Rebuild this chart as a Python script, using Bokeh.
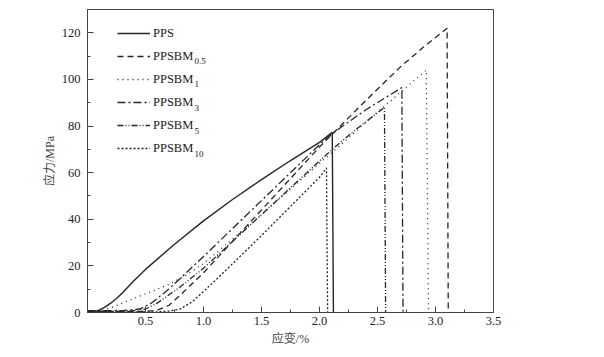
from bokeh.plotting import figure
from bokeh.models import FixedTicker, Legend, LegendItem, Label
from bokeh.embed import file_html
from bokeh.resources import INLINE

# ---- data (strain %, stress MPa) ----
pps_x = [0, 0.05, 0.1, 0.15, 0.2, 0.25, 0.3, 0.4, 0.5, 0.75, 1.0, 1.25, 1.5, 1.75, 2.0, 2.11, 2.12]
pps_y = [0, 0.2, 1, 2.3, 4, 6, 8.4, 13.6, 18.5, 29.3, 39.3, 48.5, 57, 65.2, 73, 77.3, 0]

bm05_x = [0, 0.5, 0.6, 0.7, 0.8, 1.0, 1.5, 2.0, 2.12, 2.4, 2.7, 2.9, 3.1, 3.11]
bm05_y = [0.5, 0.5, 1, 3, 7.5, 17, 44, 71, 77, 91, 105.5, 114, 122, 0]

bm1_x = [0, 0.1, 0.2, 0.3, 0.5, 0.7, 0.85, 1.0, 1.5, 2.0, 2.14, 2.5, 2.92, 2.94]
bm1_y = [0.5, 0.7, 2, 4, 8, 12, 16, 21, 42, 64, 70, 86, 104, 0]

bm3_x = [0, 0.3, 0.45, 0.55, 0.7, 1.0, 1.5, 2.0, 2.13, 2.4, 2.71, 2.72]
bm3_y = [0.8, 0.8, 1.5, 4, 10, 24, 48, 72, 77.5, 87, 96.5, 0]

bm5_x = [0, 0.35, 0.5, 0.6, 0.8, 1.0, 1.5, 2.0, 2.11, 2.3, 2.56, 2.57]
bm5_y = [0.5, 0.5, 1.5, 4, 11, 19, 42, 65, 70, 78, 88, 0]

bm10_x = [0, 0.6, 0.7, 0.8, 0.9, 1.0, 1.2, 1.5, 1.8, 2.0, 2.06, 2.07]
bm10_y = [0.3, 0.3, 0.6, 1.5, 4.5, 9, 18.5, 33, 48, 58, 62, 0]

series_names = ["PPS", "PPSBM", "PPSBM", "PPSBM", "PPSBM", "PPSBM"]
series_subs = ["", "0.5", "1", "3", "5", "10"]
legend_rows_y = [120, 110, 100, 90, 80, 70]

x_ticks = [0.5, 1.0, 1.5, 2.0, 2.5, 3.0, 3.5]
x_tick_labels = ["0.5", "1.0", "1.5", "2.0", "2.5", "3.0", "3.5"]
x_minor = [0.25, 0.75, 1.25, 1.75, 2.25, 2.75, 3.25]
y_ticks = [0, 20, 40, 60, 80, 100, 120]
y_tick_labels = ["0", "20", "40", "60", "80", "100", "120"]
y_minor = [10, 30, 50, 70, 90, 110, 130]

SERIF = "'Liberation Serif', 'Noto Sans CJK SC'"
INK = "#262626"

p = figure(width=596, height=349, x_range=(0, 3.5), y_range=(0, 130),
           output_backend="svg", toolbar_location=None,
           min_border_left=87, min_border_right=103,
           min_border_top=9, min_border_bottom=37)
p.grid.visible = False
p.outline_line_color = "#444444"
p.outline_line_width = 1

p.xaxis.ticker = FixedTicker(ticks=x_ticks, minor_ticks=x_minor)
p.xaxis.major_label_overrides = {t: l for t, l in zip(x_ticks, x_tick_labels)}
p.yaxis.ticker = FixedTicker(ticks=y_ticks, minor_ticks=y_minor)
p.yaxis.major_label_overrides = {t: l for t, l in zip(y_ticks, y_tick_labels)}

for ax in (p.xaxis[0], p.yaxis[0]):
    ax.major_tick_in = 6
    ax.major_tick_out = 0
    ax.minor_tick_in = 3
    ax.minor_tick_out = 0
    ax.axis_line_color = "#444444"
    ax.major_tick_line_color = "#444444"
    ax.minor_tick_line_color = "#444444"
    ax.major_label_text_font = SERIF
    ax.major_label_text_font_size = "12.5px"
    ax.major_label_text_color = "#222222"
    ax.axis_label_text_font = SERIF
    ax.axis_label_text_font_size = "12px"
    ax.axis_label_text_font_style = "normal"
    ax.axis_label_text_color = "#444444"

p.xaxis.axis_label = "应变/%"
p.yaxis.axis_label = "应力/MPa"
p.xaxis.major_label_standoff = 4
p.yaxis.major_label_standoff = 7
p.xaxis.axis_label_standoff = 4
p.yaxis.axis_label_standoff = 2

r0 = p.line(pps_x, pps_y, line_color=INK, line_width=1.4)
r1 = p.line(bm05_x, bm05_y, line_color=INK, line_width=1.3, line_dash="6 4")
r2 = p.line(bm1_x, bm1_y, line_color=INK, line_width=1.3, line_dash="1 4")
r3 = p.line(bm3_x, bm3_y, line_color=INK, line_width=1.3, line_dash="8 3 2 3")
r4 = p.line(bm5_x, bm5_y, line_color=INK, line_width=1.3, line_dash="6 2 1 2 1 2")
r5 = p.line(bm10_x, bm10_y, line_color=INK, line_width=1.3, line_dash="2 2")
rends = [r0, r1, r2, r3, r4, r5]

legend = Legend(items=[LegendItem(label=n, renderers=[r]) for n, r in zip(series_names, rends)],
                location=(30, 154), padding=0, spacing=3, glyph_width=33, glyph_height=20,
                label_height=20, label_standoff=3, border_line_alpha=0,
                background_fill_alpha=0, label_text_font=SERIF,
                label_text_font_size="12.5px", label_text_color="#222222")
p.add_layout(legend)

for sub, yy in zip(series_subs, legend_rows_y):
    if sub:
        p.add_layout(Label(x=0, y=yy, x_offset=107, y_offset=-5, text=sub,
                           text_font=SERIF, text_font_size="9px",
                           text_color="#222222", text_baseline="middle"))

open("out.html", "w").write(file_html(p, INLINE))
